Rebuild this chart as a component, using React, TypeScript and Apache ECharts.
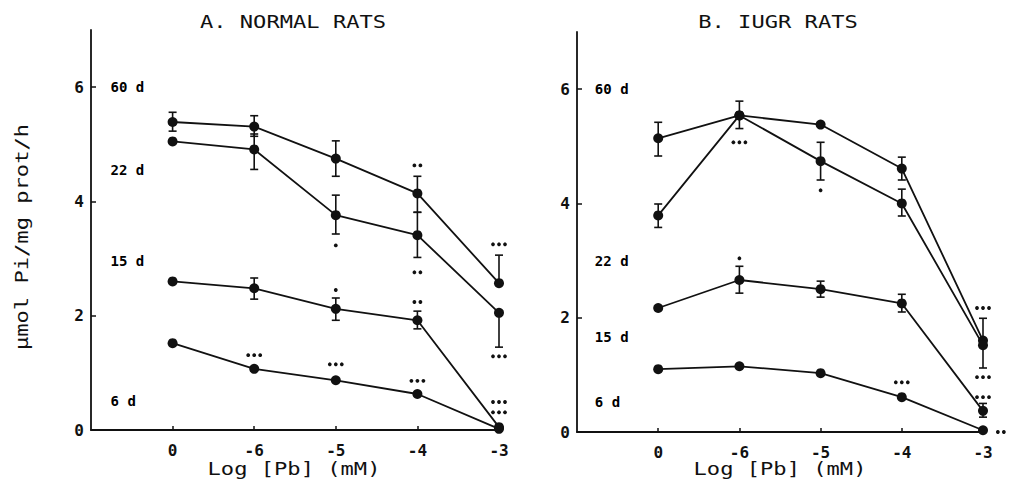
import React, { useEffect, useRef } from "react";
import * as echarts from "echarts";

// ---- data ----
const xTickLabels = ["0", "-6", "-5", "-4", "-3"];
const xPositions = [0, 1, 2, 3, 4];
const yTicks = [0, 2, 4, 6];
const dayNames = ["60 d", "22 d", "15 d", "6 d"];

// Panel A: normal rats
const a60 = [5.39, 5.31, 4.75, 4.14, 2.57];
const a22 = [5.05, 4.91, 3.76, 3.41, 2.05];
const a15 = [2.6, 2.48, 2.12, 1.92, 0.05];
const a6 = [1.52, 1.07, 0.87, 0.63, 0.02];
// error bars [x, low, high]
const errA = [
  [0, 5.23, 5.56], [1, 5.14, 5.5], [2, 4.44, 5.06], [3, 3.81, 4.44], [4, 2.57, 3.06],
  [1, 4.56, 5.18], [2, 3.43, 4.11], [3, 3.02, 3.81], [4, 1.45, 2.05],
  [1, 2.29, 2.66], [2, 1.92, 2.31], [3, 1.77, 2.08],
];
// significance dots [x, y, count]
const sigA = [
  [3, 4.63, 2], [2, 3.23, 1], [3, 2.76, 2], [2, 2.45, 1], [3, 2.24, 2],
  [1, 1.31, 3], [2, 1.15, 3], [3, 0.86, 3],
  [4, 3.25, 3], [4, 1.29, 3], [4, 0.49, 3], [4, 0.31, 3],
];
// day label anchors [x, y]
const dayPosA = [[-0.76, 6.0], [-0.76, 4.55], [-0.76, 2.95], [-0.76, 0.51]];

// Panel B: IUGR rats
const b60 = [5.14, 5.54, 5.38, 4.61, 1.6];
const b22 = [3.79, 5.54, 4.74, 4.0, 1.52];
const b15 = [2.17, 2.66, 2.5, 2.25, 0.37];
const b6 = [1.1, 1.15, 1.03, 0.61, 0.03];
const errB = [
  [0, 4.83, 5.42], [1, 5.31, 5.79], [3, 4.41, 4.81],
  [0, 3.58, 3.99], [2, 4.41, 5.07], [3, 3.78, 4.25], [4, 1.12, 1.99],
  [1, 2.43, 2.9], [2, 2.36, 2.64], [3, 2.1, 2.41], [4, 0.26, 0.5],
];
const sigB = [
  [1, 5.07, 3], [2, 4.23, 1], [1, 3.04, 1],
  [4, 2.17, 3], [4, 0.96, 3], [3, 0.87, 3], [4, 0.61, 3], [4.22, 0.0, 2],
];
const dayPosB = [[-0.78, 6.0], [-0.78, 3.0], [-0.78, 1.66], [-0.78, 0.52]];

const titleA = "A. NORMAL RATS";
const titleB = "B. IUGR RATS";
const xTitle = "Log [Pb] (mM)";
const yTitle = "\u03bcmol Pi/mg prot/h";

const INK = "#111";
const MONO = '"DejaVu Sans Mono"';

function lineSeries(vals: number[], idx: number, name: string) {
  return {
    type: "line",
    name,
    xAxisIndex: idx,
    yAxisIndex: idx,
    data: vals.map((v, i) => [xPositions[i], v]),
    symbol: "circle",
    symbolSize: 10,
    lineStyle: { color: INK, width: 1.8 },
    itemStyle: { color: INK },
    z: 3,
  };
}

function errSeries(data: number[][], idx: number) {
  return {
    type: "custom",
    xAxisIndex: idx,
    yAxisIndex: idx,
    data,
    z: 2,
    renderItem: (params: any, api: any) => {
      const x = api.value(0);
      const p1 = api.coord([x, api.value(1)]);
      const p2 = api.coord([x, api.value(2)]);
      const w = 4;
      const st = { stroke: INK, lineWidth: 1.6 };
      return {
        type: "group",
        children: [
          { type: "line", shape: { x1: p1[0], y1: p1[1], x2: p2[0], y2: p2[1] }, style: st },
          { type: "line", shape: { x1: p1[0] - w, y1: p1[1], x2: p1[0] + w, y2: p1[1] }, style: st },
          { type: "line", shape: { x1: p2[0] - w, y1: p2[1], x2: p2[0] + w, y2: p2[1] }, style: st },
        ],
      };
    },
  };
}

function sigSeries(data: number[][], idx: number) {
  return {
    type: "custom",
    xAxisIndex: idx,
    yAxisIndex: idx,
    data,
    clip: false,
    z: 4,
    renderItem: (params: any, api: any) => {
      const c = api.coord([api.value(0), api.value(1)]);
      const n = api.value(2);
      const gap = 6;
      const children = [];
      for (let k = 0; k < n; k++) {
        children.push({
          type: "circle",
          shape: { cx: c[0] + (k - (n - 1) / 2) * gap, cy: c[1], r: 1.9 },
          style: { fill: INK },
        });
      }
      return { type: "group", children };
    },
  };
}

function daySeries(pos: number[][], idx: number) {
  return {
    type: "custom",
    xAxisIndex: idx,
    yAxisIndex: idx,
    data: pos.map((p, i) => [p[0], p[1], i]),
    clip: false,
    z: 5,
    renderItem: (params: any, api: any) => {
      const c = api.coord([api.value(0), api.value(1)]);
      return {
        type: "text",
        x: c[0],
        y: c[1],
        style: {
          text: dayNames[api.value(2)],
          fill: "#000",
          font: `bold 14px ${MONO}`,
          textAlign: "left",
          textVerticalAlign: "middle",
        },
      };
    },
  };
}

function xAxisDef(gridIndex: number) {
  return {
    type: "value",
    gridIndex,
    min: -1,
    max: 4,
    axisLine: { onZero: false, lineStyle: { color: INK, width: 1.8 } },
    axisTick: { show: true, inside: true, length: 4, customValues: xPositions, lineStyle: { color: INK, width: 1.5 } },
    axisLabel: {
      customValues: xPositions,
      formatter: (v: number) => xTickLabels[Math.round(v)] ?? "",
      color: INK,
      fontFamily: MONO,
      fontWeight: "bold",
      fontSize: 16,
      margin: 12,
    },
    splitLine: { show: false },
  };
}

function yAxisDef(gridIndex: number) {
  return {
    type: "value",
    gridIndex,
    min: 0,
    max: 7,
    axisLine: { show: true, onZero: false, lineStyle: { color: INK, width: 1.8 } },
    axisTick: { show: true, inside: true, length: 5, customValues: yTicks, lineStyle: { color: INK, width: 1.5 } },
    axisLabel: {
      customValues: yTicks,
      color: INK,
      fontFamily: MONO,
      fontWeight: "bold",
      fontSize: 16,
      margin: 7,
    },
    splitLine: { show: false },
  };
}

function bigText(text: string, x: number, y: number, rotation = 0) {
  return {
    type: "text",
    x,
    y,
    rotation,
    scaleX: 1.3,
    style: {
      text,
      fill: INK,
      font: `17px ${MONO}`,
      textAlign: "center",
      textVerticalAlign: "middle",
    },
  };
}

export default function App() {
  const ref = useRef<HTMLDivElement>(null);
  useEffect(() => {
    if (!ref.current) return;
    const chart = echarts.init(ref.current, null, { renderer: "svg" });
    chart.setOption({
      animation: false,
      backgroundColor: "#fff",
      grid: [
        { left: 91, top: 30, width: 408, height: 400 },
        { left: 577, top: 32, width: 406, height: 400 },
      ],
      xAxis: [xAxisDef(0), xAxisDef(1)],
      yAxis: [yAxisDef(0), yAxisDef(1)],
      series: [
        lineSeries(a60, 0, "A 60 d"),
        lineSeries(a22, 0, "A 22 d"),
        lineSeries(a15, 0, "A 15 d"),
        lineSeries(a6, 0, "A 6 d"),
        errSeries(errA, 0),
        sigSeries(sigA, 0),
        daySeries(dayPosA, 0),
        lineSeries(b60, 1, "B 60 d"),
        lineSeries(b22, 1, "B 22 d"),
        lineSeries(b15, 1, "B 15 d"),
        lineSeries(b6, 1, "B 6 d"),
        errSeries(errB, 1),
        sigSeries(sigB, 1),
        daySeries(dayPosB, 1),
      ],
      graphic: [
        bigText(titleA, 293, 22),
        bigText(titleB, 778, 22),
        bigText(xTitle, 294, 469),
        bigText(xTitle, 780, 469),
        bigText(yTitle, 22, 237, Math.PI / 2),
      ],
    });
    return () => chart.dispose();
  }, []);
  return (
    <div
      ref={ref}
      style={{ position: "fixed", left: 0, top: 0, width: 1009, height: 482, background: "#fff" }}
    />
  );
}
